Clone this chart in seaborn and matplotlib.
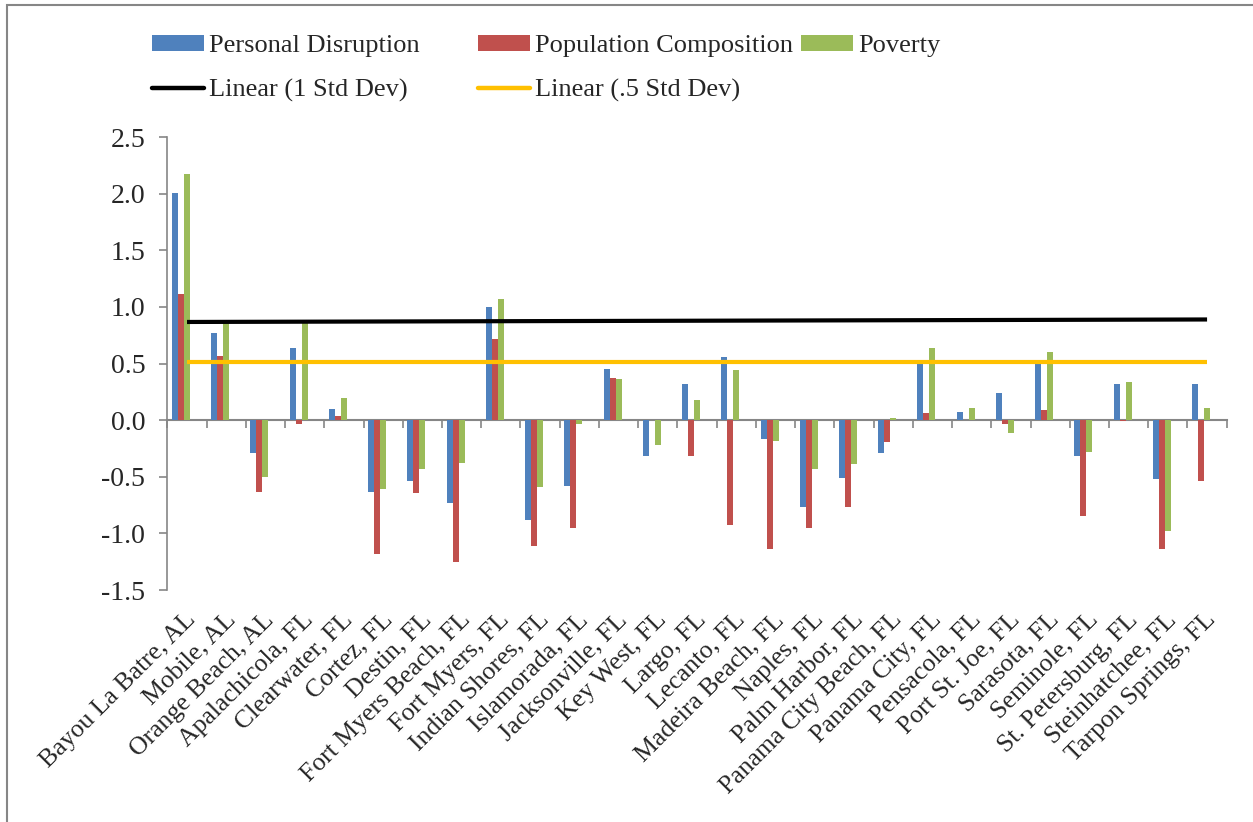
import matplotlib
matplotlib.use("Agg")
import matplotlib.pyplot as plt
from matplotlib.lines import Line2D
from matplotlib.patches import Patch, Rectangle
from matplotlib.ticker import FormatStrFormatter
from matplotlib.transforms import ScaledTranslation
import numpy as np
import pandas as pd
import seaborn as sns

# places along the x axis
categories = [
    "Bayou La Batre, AL", "Mobile, AL", "Orange Beach, AL", "Apalachicola, FL",
    "Clearwater, FL", "Cortez, FL", "Destin, FL", "Fort Myers Beach, FL",
    "Fort Myers, FL", "Indian Shores, FL", "Islamorada, FL", "Jacksonville, FL",
    "Key West, FL", "Largo, FL", "Lecanto, FL", "Madeira Beach, FL", "Naples, FL",
    "Palm Harbor, FL", "Panama City Beach, FL", "Panama City, FL", "Pensacola, FL",
    "Port St. Joe, FL", "Sarasota, FL", "Seminole, FL", "St. Petersburg, FL",
    "Steinhatchee, FL", "Tarpon Springs, FL",
]

personal_disruption = [2.01, 0.77, -0.29, 0.64, 0.10, -0.63, -0.54, -0.735, 0.995,
                       -0.88, -0.58, 0.45, -0.32, 0.315, 0.56, -0.17, -0.77, -0.51,
                       -0.29, 0.51, 0.07, 0.24, 0.51, -0.32, 0.315, -0.52, 0.32]
population_composition = [1.11, 0.565, -0.63, -0.03, 0.035, -1.18, -0.64, -1.256, 0.72,
                          -1.11, -0.95, 0.37, 0.0, -0.32, -0.93, -1.14, -0.95, -0.77,
                          -0.19, 0.06, 0.0, -0.03, 0.09, -0.85, -0.01, -1.14, -0.535]
poverty = [2.17, 0.86, -0.50, 0.86, 0.20, -0.61, -0.435, -0.38, 1.07,
           -0.59, -0.03, 0.36, -0.22, 0.18, 0.44, -0.185, -0.435, -0.39,
           0.02, 0.64, 0.11, -0.11, 0.60, -0.28, 0.34, -0.98, 0.105]

series_names = ["Personal Disruption", "Population Composition", "Poverty"]
# the std dev series only show as trendlines but still hold a bar slot each
hidden_series = ["1 Std Dev", ".5 Std Dev"]

# linear trendlines, value at first and last place
trend_1sd = [0.867, 0.889]
trend_05sd = [0.515, 0.515]

yticks = [-1.5, -1.0, -0.5, 0.0, 0.5, 1.0, 1.5, 2.0, 2.5]

df = pd.DataFrame({
    "place": categories,
    "Personal Disruption": personal_disruption,
    "Population Composition": population_composition,
    "Poverty": poverty,
})
long_df = df.melt(id_vars="place", var_name="series", value_name="value")

sns.set_style("white")
plt.rcParams["font.family"] = ["Liberation Serif", "DejaVu Serif"]
plt.rcParams["axes.unicode_minus"] = False

colors = {
    "Personal Disruption": "#4F81BD",
    "Population Composition": "#C0504D",
    "Poverty": "#9BBB59",
    "1 Std Dev": "#000000",
    ".5 Std Dev": "#FFC000",
}
gray = "#868686"

fig = plt.figure(figsize=(12.53, 8.22), dpi=100)
ax = fig.add_axes([0.1336, 0.2822, 0.8454, 0.5511])

sns.barplot(data=long_df, x="place", y="value", hue="series",
            order=categories, hue_order=series_names + hidden_series,
            palette=colors, saturation=1, width=0.765, gap=0,
            errorbar=None, legend=False, linewidth=0, ax=ax)

trend_x = [0, len(categories) - 1]
ax.plot(trend_x, trend_1sd, color=colors["1 Std Dev"], lw=3, solid_capstyle="butt", zorder=4)
ax.plot(trend_x, trend_05sd, color=colors[".5 Std Dev"], lw=3, solid_capstyle="butt", zorder=4)

ax.set_xlim(-0.5, len(categories) - 0.5)
ax.set_ylim(-1.5, 2.5)
ax.set_yticks(yticks)
ax.yaxis.set_major_formatter(FormatStrFormatter("%.1f"))
ax.set_xlabel("")
ax.set_ylabel("")

for side in ["top", "right", "bottom"]:
    ax.spines[side].set_visible(False)
ax.spines["left"].set_color(gray)
ax.spines["left"].set_linewidth(1.2)

ax.tick_params(axis="y", left=True, direction="out", length=6, width=1.2,
               color=gray, labelsize=20, pad=10)
ax.tick_params(axis="x", bottom=True, length=0, labelsize=18.5, pad=19)
shift = ScaledTranslation(4 / 72, 0, fig.dpi_scale_trans)
for lbl in ax.get_xticklabels():
    lbl.set_rotation(45)
    lbl.set_ha("right")
    lbl.set_va("center")
    lbl.set_rotation_mode("anchor")
    lbl.set_transform(lbl.get_transform() + shift)

# category axis line sits on zero, with ticks between the places
zero_frac = (0 - yticks[0]) / (yticks[-1] - yticks[0])
sec = ax.secondary_xaxis(zero_frac)
sec.set_xticks(np.arange(len(categories) + 1) - 0.5)
sec.tick_params(axis="x", direction="out", length=6, width=1.2, color=gray,
                labelbottom=False)
sec.spines["bottom"].set_color(gray)
sec.spines["bottom"].set_linewidth(1.5)

# legend: first column, then the rest
leg_kw = dict(frameon=False, fontsize=19, handlelength=1.97, handleheight=0.53,
              handletextpad=0.2, labelspacing=0.82, borderpad=0, borderaxespad=0,
              loc="upper left")
h_a = [Patch(facecolor=colors["Personal Disruption"], edgecolor="none"),
       Line2D([], [], color=colors["1 Std Dev"], lw=3.2)]
fig.legend(h_a, ["Personal Disruption", "Linear (1 Std Dev)"],
           bbox_to_anchor=(152 / 1253, 1 - 35 / 822), **leg_kw)
h_b = [Patch(facecolor=colors["Population Composition"], edgecolor="none"),
       Line2D([], [], color=colors[".5 Std Dev"], lw=3.2),
       Patch(facecolor=colors["Poverty"], edgecolor="none")]
fig.legend(h_b, ["Population Composition", "Linear (.5 Std Dev)", "Poverty"],
           ncol=2, columnspacing=0.3,
           bbox_to_anchor=(478 / 1253, 1 - 35 / 822), **leg_kw)

# chart border
fig.patches.append(Rectangle((7 / 1253, -0.1), 1.2, 1.1 - 5 / 822, fill=False,
                             edgecolor=gray, linewidth=1.5, transform=fig.transFigure))

fig.savefig("out.png", dpi=100)
